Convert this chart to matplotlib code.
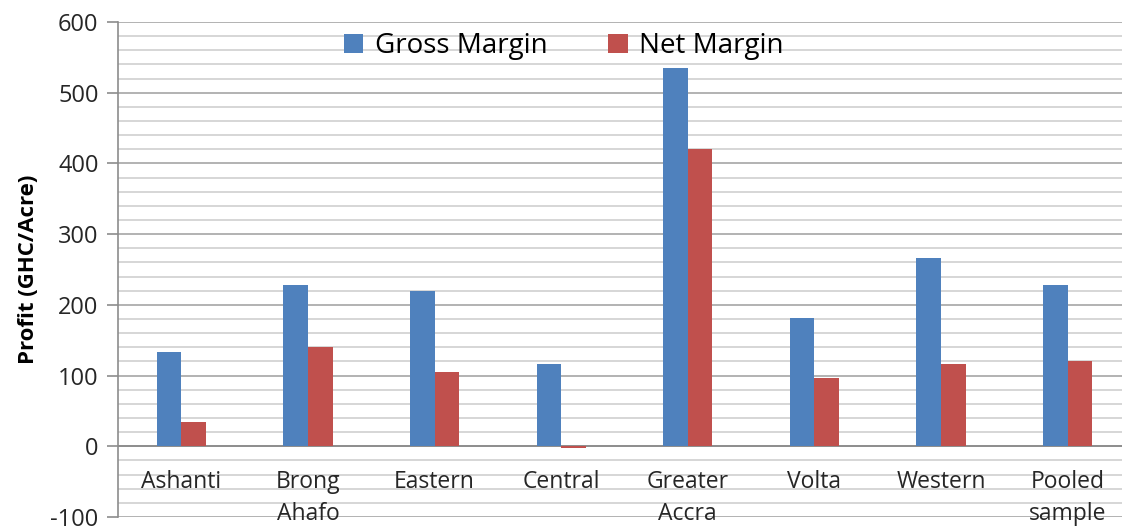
import numpy as np
import matplotlib.pyplot as plt
from matplotlib.ticker import MultipleLocator

regions = ["Ashanti", "Brong\nAhafo", "Eastern", "Central",
           "Greater\nAccra", "Volta", "Western", "Pooled\nsample"]
gross_margin = [133, 228, 219, 117, 535, 182, 266, 228]
net_margin = [35, 140, 105, -3, 421, 96, 116, 120]

plt.rcParams["font.family"] = ["Open Sans", "DejaVu Sans"]
plt.rcParams["axes.unicode_minus"] = False

fig = plt.figure(figsize=(11.22, 5.27), dpi=100)
# plot area runs past the right edge of the figure
ax = fig.add_axes([118 / 1122, 10 / 527, 1013 / 1122, 495 / 527])

x = np.arange(len(regions))
w = 0.194
ax.bar(x - w / 2, gross_margin, w, color="#4f81bd", label="Gross Margin", zorder=3)
ax.bar(x + w / 2, net_margin, w, color="#c0504d", label="Net Margin", zorder=3)

ax.set_xlim(-0.5, len(regions) - 0.5)
ax.set_ylim(-100, 600)
ax.yaxis.set_major_locator(MultipleLocator(100))
ax.yaxis.set_minor_locator(MultipleLocator(20))
ax.grid(axis="y", which="major", color="#a6a6a6", lw=1.2, zorder=1)
ax.grid(axis="y", which="minor", color="#d0d0d0", lw=1.2, zorder=1)
ax.axhline(0, color="#8c8c8c", lw=1.3, zorder=2)

for s in ["top", "right", "bottom"]:
    ax.spines[s].set_visible(False)
ax.spines["left"].set_color("#8c8c8c")
ax.spines["left"].set_linewidth(1.2)
ax.tick_params(axis="y", which="major", length=8, width=1.2, color="#8c8c8c",
               labelsize=17, labelcolor="#262626", pad=6)
ax.tick_params(axis="y", which="minor", length=0)
ax.set_xticks([])

for xi, name in zip(x, regions):
    ax.text(xi, -34, name, ha="center", va="top", fontsize=16.5,
            color="#262626", linespacing=1.4)

ax.set_ylabel("Profit (GHC/Acre)", fontsize=16, fontweight="bold", labelpad=8)

ax.legend(loc="upper center", bbox_to_anchor=(0.44, 1.03), ncol=2, frameon=False,
          fontsize=20, handlelength=0.7, handleheight=0.7, columnspacing=2.2,
          handletextpad=0.4)

fig.savefig("out.png", dpi=100)
